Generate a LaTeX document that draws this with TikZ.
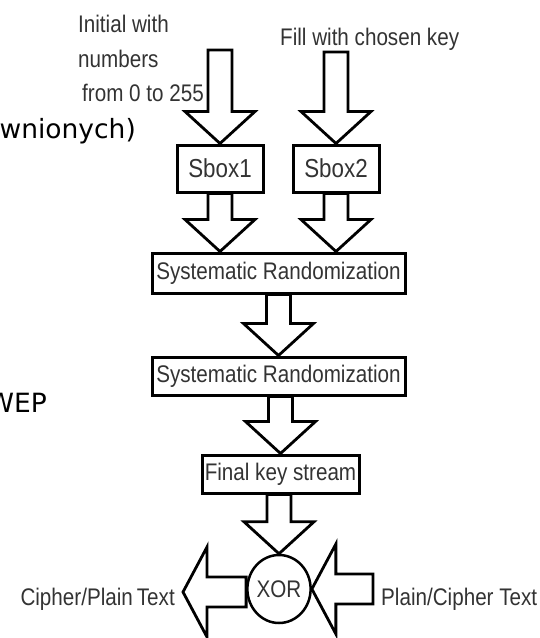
\documentclass[tikz,border=0pt]{standalone}
\usepackage{fontspec}
\newfontfamily\diagfont[FakeStretch=0.86]{Liberation Sans}
\newfontfamily\pagefont{DejaVu Sans}
\usetikzlibrary{calc,positioning,shapes.geometric}

\newcommand{\fatdown}[2]{%
  \draw[blockarrow] let \p1=(#1), \p2=(#2) in
    (\x2-12pt,\y1) -- (\x2-12pt,\y2+32pt) -- (\x2-35pt,\y2+32pt) -- (\p2)
    -- (\x2+35pt,\y2+32pt) -- (\x2+12pt,\y2+32pt) -- (\x2+12pt,\y1) -- cycle;}
\newcommand{\fatleft}[2]{%
  \draw[blockarrow] let \p1=(#1), \p2=(#2) in
    (\x1,\y2+15pt) -- (\x2+24pt,\y2+15pt) -- (\x2+24pt,\y2+45pt) -- (\p2)
    -- (\x2+24pt,\y2-45pt) -- (\x2+24pt,\y2-15pt) -- (\x1,\y2-15pt) -- cycle;}

\begin{document}
\begin{tikzpicture}[x=1pt,y=-1pt,
    stage/.style={rectangle,draw,line width=3pt,fill=white,inner sep=0pt,
                  text=black!80,font=\diagfont\fontsize{24}{28}\selectfont},
    lbltext/.style={inner sep=0pt,text=black!80,
                    font=\diagfont\fontsize{24}{34.5}\selectfont},
    pagetext/.style={inner sep=0pt,font=\pagefont\fontsize{26.5}{30}\selectfont},
    blockarrow/.style={draw,line width=2.8pt,fill=white}]
  \clip (0,0) rectangle (539,638);

  \node[pagetext,anchor=base east] (frag1) at (136,138) {wnionych)};
  \node[pagetext,anchor=base east] (frag2) at (47,412) {WEP};

  \node[lbltext,anchor=north west,align=left] (initlbl) at (78,15)
    {Initial with\\numbers\\\hspace{4pt}from 0 to 255};
  \node[lbltext,anchor=base west] (keylbl) at (280,45) {Fill with chosen key};
  \coordinate (in1) at (220,50);
  \coordinate (in2) at (335,52);

  \node[stage,minimum width=86pt,minimum height=47pt,
        font=\diagfont\fontsize{26}{30}\selectfont] (sbox1) at (220,168.5) {Sbox1};
  \node[stage,minimum width=86pt,minimum height=47pt,
        font=\diagfont\fontsize{26}{30}\selectfont] (sbox2) at (336,168.5) {Sbox2};
  \node[stage,minimum width=253pt,minimum height=40pt] (rand1) at (278.5,273)
    {Systematic Randomization};
  \node[stage,minimum width=253pt,minimum height=38pt] (rand2) at (278.5,376)
    {Systematic Randomization};
  \node[stage,minimum width=157pt,minimum height=38pt] (final) at (280.5,474)
    {Final key stream};
  \node[ellipse,draw,line width=2.5pt,minimum width=46pt,minimum height=68pt,
        inner sep=0pt,text=black!80,font=\diagfont\fontsize{24}{28}\selectfont]
        (xor) at (279,589) {XOR};

  \coordinate (out) at (183,592);
  \coordinate (in3) at (373,592);
  \node[lbltext,anchor=base east] (outlbl) at (175,605) {Cipher/Plain\,Text};
  \node[lbltext,anchor=base west] (inlbl) at (381,605) {Plain/Cipher Text};

  \fatdown{in1}{sbox1.north}
  \fatdown{in2}{sbox2.north}
  \fatdown{sbox1.south}{sbox1 |- rand1.north}
  \fatdown{sbox2.south}{sbox2 |- rand1.north}
  \fatdown{rand1.south}{rand2.north}
  \fatdown{rand2.south}{final.north}
  \fatdown{final.south}{xor.north}
  \fatleft{xor.west}{out}
  \fatleft{in3}{xor.east}
\end{tikzpicture}
\end{document}
